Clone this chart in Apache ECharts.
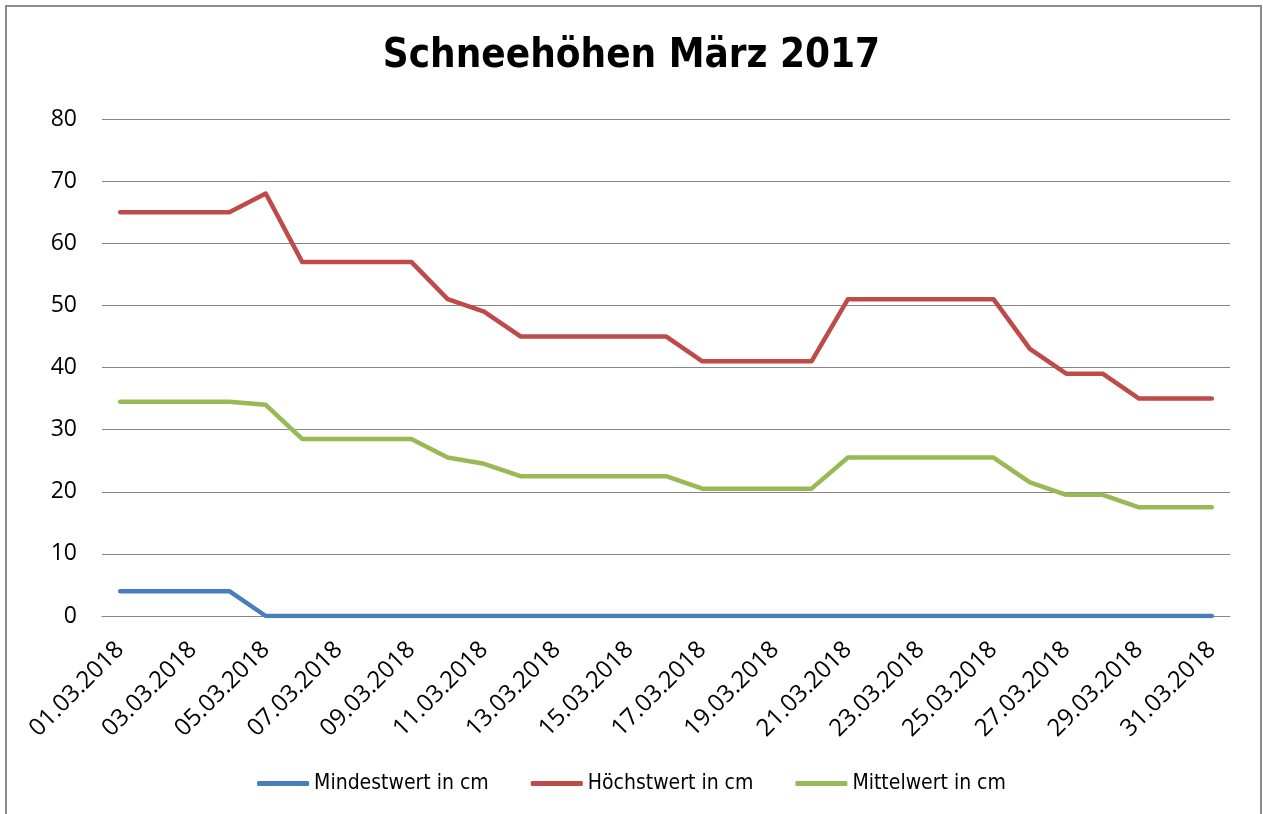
<!DOCTYPE html>
<html>
<head>
<meta charset="utf-8">
<script src="https://cdn.jsdelivr.net/npm/echarts@6/dist/echarts.min.js"></script>
<style>
    html, body { margin: 0; padding: 0; background: #fff; }
    #chart { width: 1263px; height: 814px; }
</style>
</head>
<body>
<div id="chart"></div>
<script>
// Tage im März
var days = [];
for (var d = 1; d <= 31; d++) {
    days.push((d < 10 ? '0' + d : '' + d) + '.03.2018');
}

var mindestwert = [4, 4, 4, 4, 0, 0, 0, 0, 0, 0, 0, 0, 0, 0, 0, 0, 0, 0, 0, 0, 0, 0, 0, 0, 0, 0, 0, 0, 0, 0, 0];
var hoechstwert = [65, 65, 65, 65, 68, 57, 57, 57, 57, 51, 49, 45, 45, 45, 45, 45, 41, 41, 41, 41, 51, 51, 51, 51, 51, 43, 39, 39, 35, 35, 35];
var mittelwert = [34.5, 34.5, 34.5, 34.5, 34, 28.5, 28.5, 28.5, 28.5, 25.5, 24.5, 22.5, 22.5, 22.5, 22.5, 22.5, 20.5, 20.5, 20.5, 20.5, 25.5, 25.5, 25.5, 25.5, 25.5, 21.5, 19.5, 19.5, 17.5, 17.5, 17.5];

var seriesNames = ['Mindestwert in cm', 'Höchstwert in cm', 'Mittelwert in cm'];

var narrowFont = '"Liberation Sans Narrow", "DejaVu Sans Condensed", sans-serif';
var axisFont = '"Open Sans", "Noto Sans", sans-serif';

function lineSeries(name, data, color) {
    return {
        name: name,
        type: 'line',
        data: data,
        showSymbol: false,
        symbol: 'none',
        color: color,
        lineStyle: { width: 4.5, color: color, cap: 'round', join: 'round' }
    };
}

var option = {
    animation: false,
    backgroundColor: '#fff',
    title: {
        text: 'Schneehöhen März 2017',
        left: 'center',
        top: 32,
        textStyle: {
            fontFamily: narrowFont,
            fontWeight: 'bold',
            fontSize: 40,
            color: '#000'
        }
    },
    grid: {
        left: 102,
        right: 33,
        top: 119,
        bottom: 198
    },
    legend: {
        bottom: 15,
        left: 'center',
        itemWidth: 52,
        itemHeight: 5,
        itemGap: 42,
        icon: 'roundRect',
        textStyle: {
            fontFamily: narrowFont,
            fontSize: 21,
            color: '#000'
        },
        data: seriesNames
    },
    xAxis: {
        type: 'category',
        data: days,
        boundaryGap: true,
        axisLine: { lineStyle: { color: '#868686', width: 1 } },
        axisTick: { show: false },
        axisLabel: {
            interval: 1,
            rotate: 45,
            margin: 30,
            fontSize: 24,
            color: '#000',
            fontFamily: axisFont
        }
    },
    yAxis: {
        type: 'value',
        min: 0,
        max: 80,
        interval: 10,
        axisLine: { show: false },
        axisTick: { show: false },
        axisLabel: {
            margin: 25,
            fontSize: 23,
            color: '#000',
            fontFamily: axisFont
        },
        splitLine: { lineStyle: { color: '#868686', width: 1 } }
    },
    graphic: [{
        type: 'rect',
        shape: { x: 6, y: 6, width: 1255, height: 830 },
        style: { fill: 'none', stroke: '#8c8c8c', lineWidth: 2 },
        silent: true
    }],
    series: [
        lineSeries(seriesNames[0], mindestwert, '#4a7ebb'),
        lineSeries(seriesNames[1], hoechstwert, '#be4b48'),
        lineSeries(seriesNames[2], mittelwert, '#98b954')
    ]
};

var myChart = echarts.init(document.getElementById('chart'));
myChart.setOption(option);
</script>
</body>
</html>
